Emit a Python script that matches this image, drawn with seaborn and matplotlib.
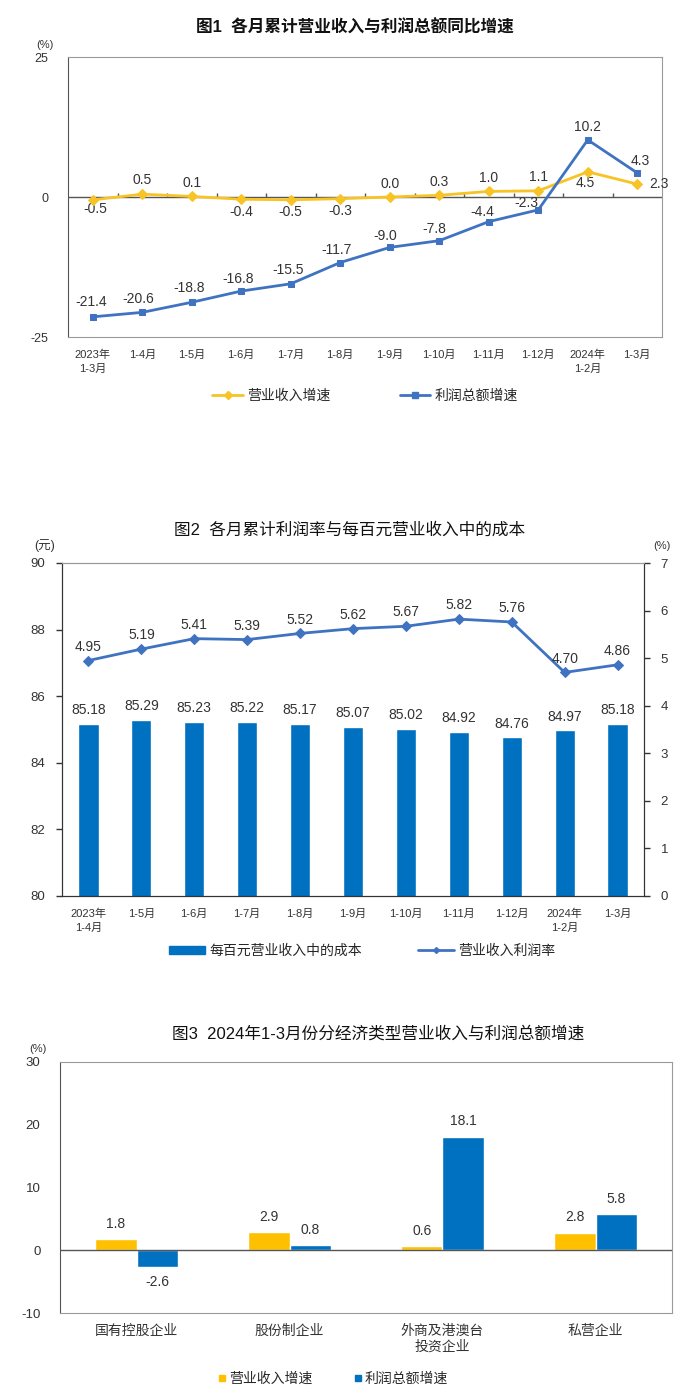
import numpy as np
import pandas as pd
import matplotlib
matplotlib.use('Agg')
import matplotlib.pyplot as plt
from matplotlib.lines import Line2D
from matplotlib.patches import Patch
import seaborn as sns

sns.set_style('white')
plt.rcParams['font.family'] = ['Liberation Sans', 'Noto Sans CJK SC', 'DejaVu Sans']
plt.rcParams['axes.unicode_minus'] = False

# --- données ---
# Fig 1
mois1 = ['2023年\n1-3月', '1-4月', '1-5月', '1-6月', '1-7月', '1-8月', '1-9月',
         '1-10月', '1-11月', '1-12月', '2024年\n1-2月', '1-3月']
revenu1 = [-0.5, 0.5, 0.1, -0.4, -0.5, -0.3, 0.0, 0.3, 1.0, 1.1, 4.5, 2.3]
profit1 = [-21.4, -20.6, -18.8, -16.8, -15.5, -11.7, -9.0, -7.8, -4.4, -2.3, 10.2, 4.3]

# Fig 2
mois2 = ['2023年\n1-4月', '1-5月', '1-6月', '1-7月', '1-8月', '1-9月',
         '1-10月', '1-11月', '1-12月', '2024年\n1-2月', '1-3月']
cout2 = [85.18, 85.29, 85.23, 85.22, 85.17, 85.07, 85.02, 84.92, 84.76, 84.97, 85.18]
taux2 = [4.95, 5.19, 5.41, 5.39, 5.52, 5.62, 5.67, 5.82, 5.76, 4.70, 4.86]

# Fig 3
types3 = ['国有控股企业', '股份制企业', '外商及港澳台\n投资企业', '私营企业']
revenu3 = [1.8, 2.9, 0.6, 2.8]
profit3 = [-2.6, 0.8, 18.1, 5.8]

JAUNE = '#F7C325'
BLEU_L = '#3F73C1'
BLEU_B = '#0070C0'
JAUNE_B = '#FFC000'
TXT = '#333333'

fig = plt.figure(figsize=(7, 14), dpi=100)

# ---------------- Figure 1 ----------------
ax1 = fig.add_axes([68/700, 1-337/1400, 594/700, 280/1400])
x1 = np.arange(len(mois1))
sns.lineplot(x=x1, y=revenu1, ax=ax1, color=JAUNE, lw=2, marker='D', markersize=5,
             markeredgecolor=JAUNE, zorder=4)
sns.lineplot(x=x1, y=profit1, ax=ax1, color=BLEU_L, lw=2, marker='s', markersize=5,
             markeredgecolor=BLEU_L, zorder=5)
ax1.set_xlim(-0.5, len(mois1) - 0.5)
ax1.set_ylim(-25, 25)
ax1.set_yticks([-25, 0, 25])
ax1.set_yticklabels(['-25', '0', '25'], fontsize=9, color=TXT)
ax1.set_xticks(x1)
ax1.set_xticklabels(mois1, fontsize=8, color=TXT, linespacing=1.5, va='top')
ax1.tick_params(axis='x', length=0, pad=9)
ax1.tick_params(axis='y', length=0, pad=14)
for s in ax1.spines.values():
    s.set_color('#9a9a9a')
ax1.spines['left'].set_color('#555555')
ax1.axhline(0, color='#555555', lw=1, zorder=2)
ax1.vlines(x1[:-1] + 0.5, 0, 0.8, color='#555555', lw=1, zorder=2)

# décalages des étiquettes (px)
off_rev = [(3, -9), (0, 14), (0, 13), (0, -13), (0, -12), (0, -12), (0, 13), (0, 13),
           (0, 13), (0, 14), (-3, -11), (22, 0)]
off_pro = [(-2, 15), (-4, 13), (-3, 14), (-3, 12), (-3, 14), (-4, 13), (-5, 11), (-5, 12),
           (-6, 10), (-12, 7), (0, 13), (3, 12)]
for i, v in enumerate(revenu1):
    ax1.annotate(f'{v:.1f}', (x1[i], v), xytext=(off_rev[i][0]*0.72, off_rev[i][1]*0.72),
                 textcoords='offset points', ha='center', va='center', fontsize=10, color=TXT)
for i, v in enumerate(profit1):
    ax1.annotate(f'{v:.1f}', (x1[i], v), xytext=(off_pro[i][0]*0.72, off_pro[i][1]*0.72),
                 textcoords='offset points', ha='center', va='center', fontsize=10, color=TXT)

fig.text(355/700, 1-27/1400, '图1  各月累计营业收入与利润总额同比增速', ha='center', va='center',
         fontsize=12, fontweight='bold', color='#111111')
fig.text(45/700, 1-45/1400, '(%)', ha='center', va='center', fontsize=8, color=TXT)

h1 = [Line2D([], [], color=JAUNE, lw=2, marker='D', markersize=4),
      Line2D([], [], color=BLEU_L, lw=2, marker='s', markersize=4)]
fig.legend(h1, ['营业收入增速', '利润总额增速'], loc='center', bbox_to_anchor=(365/700, 1-396/1400),
           ncol=2, frameon=False, fontsize=10, handlelength=2.2, columnspacing=5, handletextpad=0.3)

# ---------------- Figure 2 ----------------
ax2 = fig.add_axes([62/700, 1-896/1400, 582/700, 333/1400])
x2 = np.arange(len(mois2))
sns.barplot(x=x2, y=cout2, ax=ax2, color=BLEU_B, width=0.38, saturation=1)
ax2.set_ylim(80, 90)
ax2.set_yticks(np.arange(80, 91, 2))
ax2.set_yticklabels([str(v) for v in range(80, 91, 2)], fontsize=9.5, color=TXT)
ax2.bar_label(ax2.containers[0], fmt='%.2f', padding=5, fontsize=10, color=TXT)
ax2.set_xticks(x2)
ax2.set_xticklabels(mois2, fontsize=8, color=TXT, linespacing=1.5, va='top')
ax2.tick_params(axis='x', length=0, pad=9)
ax2.tick_params(axis='y', direction='out', length=4, width=1, color='#333333', pad=8)
ax2.set_xlabel('')

ax2r = ax2.twinx()
sns.lineplot(x=x2, y=taux2, ax=ax2r, color=BLEU_L, lw=2, marker='D', markersize=5,
             markeredgecolor=BLEU_L)
ax2r.set_ylim(0, 7)
ax2r.set_yticks(range(0, 8))
ax2r.set_yticklabels([str(v) for v in range(0, 8)], fontsize=9.5, color=TXT)
ax2r.tick_params(axis='y', direction='out', length=4, width=1, color='#333333', pad=8)
ax2.set_xlim(-0.5, len(mois2) - 0.5)
for i, v in enumerate(taux2):
    ax2r.annotate(f'{v:.2f}', (x2[i], v), xytext=(0, 10), textcoords='offset points',
                  ha='center', va='center', fontsize=10, color=TXT)
for ax in (ax2, ax2r):
    for s in ax.spines.values():
        s.set_color('#333333')
    ax.spines['top'].set_color('#9a9a9a')

fig.text(350/700, 1-530/1400, '图2  各月累计利润率与每百元营业收入中的成本', ha='center', va='center',
         fontsize=12, color='#111111')
fig.text(45/700, 1-546/1400, '(元)', ha='center', va='center', fontsize=9, color=TXT)
fig.text(662/700, 1-546/1400, '(%)', ha='center', va='center', fontsize=8, color=TXT)

h2 = [Patch(color=BLEU_B), Line2D([], [], color=BLEU_L, lw=2, marker='D', markersize=3)]
fig.legend(h2, ['每百元营业收入中的成本', '营业收入利润率'], loc='center', bbox_to_anchor=(362/700, 1-951/1400),
           ncol=2, frameon=False, fontsize=10, handlelength=2.6, handleheight=0.55,
           columnspacing=4, handletextpad=0.3)

# ---------------- Figure 3 ----------------
ax3 = fig.add_axes([60/700, 1-1313/1400, 612/700, 251/1400])
df3 = pd.DataFrame({
    'type': types3 * 2,
    'serie': ['营业收入增速'] * len(types3) + ['利润总额增速'] * len(types3),
    'val': revenu3 + profit3,
})
sns.barplot(data=df3, x='type', y='val', hue='serie', palette=[JAUNE_B, BLEU_B],
            width=0.54, saturation=1, ax=ax3, legend=False)
ax3.set_ylim(-10, 30)
ax3.set_yticks(range(-10, 31, 10))
ax3.set_yticklabels([str(v) for v in range(-10, 31, 10)], fontsize=9.5, color=TXT)
ax3.tick_params(axis='y', direction='out', length=4, width=1, color='#555555', pad=10)
ax3.tick_params(axis='x', length=0, pad=8)
ax3.set_xticks(range(len(types3)))
ax3.set_xticklabels(types3, fontsize=10, color=TXT, linespacing=1.1, va='top')
ax3.set_xlabel('')
ax3.set_ylabel('')
ax3.set_xlim(-0.5, len(types3) - 0.5)
for c in ax3.containers:
    ax3.bar_label(c, fmt='%.1f', padding=6, fontsize=10, color=TXT)
ax3.axhline(0, color='#555555', lw=1, zorder=3)
for s in ax3.spines.values():
    s.set_color('#9a9a9a')
ax3.spines['left'].set_color('#555555')

fig.text(378/700, 1-1034/1400, '图3  2024年1-3月份分经济类型营业收入与利润总额增速', ha='center', va='center',
         fontsize=12, color='#111111')
fig.text(38/700, 1-1049/1400, '(%)', ha='center', va='center', fontsize=8, color=TXT)

h3 = [Line2D([], [], ls='', marker='s', markersize=5, color=JAUNE_B),
      Line2D([], [], ls='', marker='s', markersize=5, color=BLEU_B)]
fig.legend(h3, ['营业收入增速', '利润总额增速'], loc='center', bbox_to_anchor=(333/700, 1-1379/1400),
           ncol=2, frameon=False, fontsize=10, handlelength=0.6, columnspacing=3, handletextpad=0.2)

fig.savefig('out.png', dpi=100, facecolor='white')
